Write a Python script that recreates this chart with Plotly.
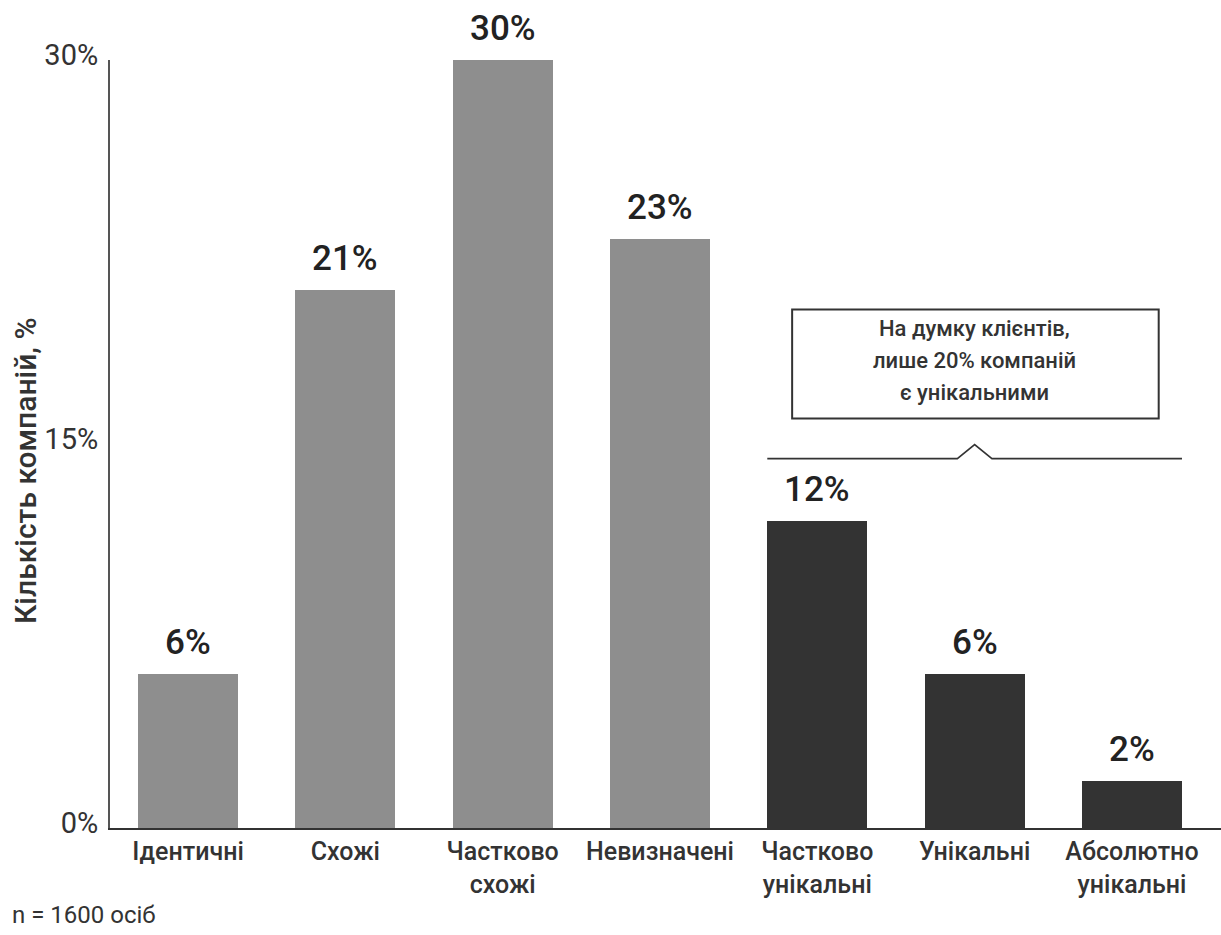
import plotly.graph_objects as go

categories = ["Ідентичні", "Схожі", "Частково<br>схожі", "Невизначені",
              "Частково<br>унікальні", "Унікальні", "Абсолютно<br>унікальні"]
values = [6, 21, 30, 23, 12, 6, 1.85]
value_labels = ["6%", "21%", "30%", "23%", "12%", "6%", "2%"]
groups = ["common", "common", "common", "common", "unique", "unique", "unique"]
ytick_vals = [0, 15, 30]
ytick_text = ["0%", "15%", "30%"]
note_lines = ["На думку клієнтів,", "лише 20% компаній", "є унікальними"]

GRAY = "#8e8e8e"
DARK = "#333333"
TXT = "#333333"
FONT = "Roboto"

x = list(range(len(categories)))
colors = [GRAY if g == "common" else DARK for g in groups]
BW = 0.636

fig = go.Figure()
fig.add_trace(go.Bar(x=x, y=values, width=BW, marker=dict(color=colors, line=dict(width=0)),
                     hoverinfo="skip", showlegend=False))

annotations = []
for xi, v, t in zip(x, values, value_labels):
    annotations.append(dict(x=xi, y=v, xref="x", yref="y", text=t, showarrow=False,
                            yanchor="bottom", yshift=9,
                            font=dict(family=FONT, size=35, color="#222222", weight=500)))

# bracket over the "unique" group
uniq = [i for i, g in enumerate(groups) if g == "unique"]
x0, x1 = uniq[0] - BW / 2, uniq[-1] + BW / 2
xm = (uniq[0] + uniq[-1]) / 2
yb = 14.43
fig.add_trace(go.Scatter(x=[x0, xm - 0.11, xm, xm + 0.11, x1],
                         y=[yb, yb, yb + 0.55, yb, yb], mode="lines",
                         line=dict(color=DARK, width=1.6), hoverinfo="skip",
                         showlegend=False, cliponaxis=False))

# callout box
fig.add_shape(type="rect", xref="x", yref="y", x0=uniq[0] - 0.16, x1=uniq[-1] + 0.17,
              y0=16.0, y1=20.25, line=dict(color=DARK, width=2), fillcolor="white")
for k, line in enumerate(note_lines):
    annotations.append(dict(x=xm, y=19.5 - 1.25 * k, xref="x", yref="y",
                            text=line, showarrow=False, align="center", yanchor="middle",
                            font=dict(family=FONT, size=22, color=TXT, weight=500)))

annotations.append(dict(x=-100 / 1111, y=-0.113, xref="paper", yref="paper",
                        text="n = 1600 осіб", showarrow=False, xanchor="left",
                        yanchor="middle", font=dict(family=FONT, size=24, color=TXT)))

# y-axis title
annotations.append(dict(x=-85 / 1111, y=(828 - 471) / 768, xref="paper", yref="paper",
                        text="Кількість компаній, %", showarrow=False, textangle=-90,
                        xanchor="center", yanchor="middle",
                        font=dict(family=FONT, size=30, color=TXT, weight=500)))

fig.update_layout(
    width=1221, height=935,
    margin=dict(l=110, r=0, t=60, b=107),
    paper_bgcolor="white", plot_bgcolor="white",
    annotations=annotations,
    bargap=0,
    xaxis=dict(range=[-0.496, 6.566], tickmode="array", tickvals=x, ticktext=categories,
               showgrid=False, zeroline=False, showline=True, linecolor=DARK, linewidth=2,
               ticks="", tickfont=dict(family=FONT, size=25, color=TXT, weight=500),
               ticklabelstandoff=0, fixedrange=True),
    yaxis=dict(range=[0, 30], tickmode="array", tickvals=ytick_vals, ticktext=ytick_text,
               showgrid=False, zeroline=False, showline=True, linecolor="#555555", linewidth=2,
               ticks="", tickfont=dict(family=FONT, size=29, color=TXT),
               ticklabelstandoff=4, ticklabelshift=-5, fixedrange=True),
)

fig.write_html("out.html")
